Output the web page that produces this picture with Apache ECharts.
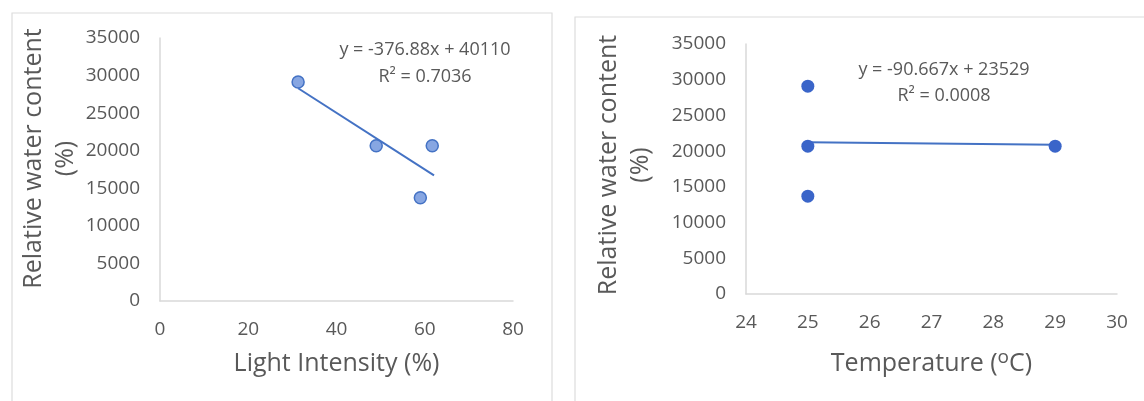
<!DOCTYPE html>
<html>
<head>
<meta charset="utf-8">
<script src="https://cdn.jsdelivr.net/npm/echarts@6/dist/echarts.min.js"></script>
<style>
html,body{margin:0;padding:0;background:#fff;}
#chart{width:1144px;height:401px;}
</style>
</head>
<body>
<div id="chart"></div>
<script>
// Left chart: Light intensity vs relative water content
var lightX = [31.3, 49.0, 61.7, 59.0];
var lightY = [29150, 20650, 20650, 13750];
var lightTrendX = [31.3, 62.1];
var lightTrendY = [28314, 16706];
var lightEq = ['y = -376.88x + 40110', 'R² = 0.7036'];

// Right chart: Temperature vs relative water content
var tempX = [25, 25, 25, 29];
var tempY = [29100, 20700, 13700, 20700];
var tempTrendX = [25, 29];
var tempTrendY = [21262, 20900];
var tempEq = ['y = -90.667x + 23529', 'R² = 0.0008'];

var yTicks = [0, 5000, 10000, 15000, 20000, 25000, 30000, 35000];
var lightTicks = [0, 20, 40, 60, 80];
var tempTicks = [24, 25, 26, 27, 28, 29, 30];

function pairs(xs, ys){ return xs.map(function(x,i){ return [x, ys[i]]; }); }

var FONT = 'Open Sans';
var GREY = '#595959';
var AXIS = '#d9d9d9';
var BLUE = '#4472c4';
function plain(v){ return String(v); }

function xAxisCfg(idx, ticks, name, gap, rich){
  return {
    type:'value', gridIndex: idx,
    min: ticks[0], max: ticks[ticks.length-1], interval: ticks[1]-ticks[0],
    name: name, nameLocation:'middle', nameGap: gap,
    nameTextStyle:{fontFamily:FONT, fontSize:25, color:GREY, rich: rich || {}},
    axisLine:{show:true, lineStyle:{color:AXIS, width:1.5}},
    axisTick:{show:false}, splitLine:{show:false},
    axisLabel:{fontFamily:FONT, fontSize:19, color:GREY, margin:19, formatter: plain}
  };
}
function yAxisCfg(idx, gap, pad){
  return {
    type:'value', gridIndex: idx,
    min: yTicks[0], max: yTicks[yTicks.length-1], interval: yTicks[1]-yTicks[0],
    name:'Relative water content\n(%)', nameLocation:'middle', nameGap: gap, nameRotate: 90,
    nameTextStyle:{fontFamily:FONT, fontSize:25, color:GREY, lineHeight:32, align:'center', padding: pad},
    axisLine:{show:true, lineStyle:{color:AXIS, width:1.5}},
    axisTick:{show:false}, splitLine:{show:false},
    axisLabel:{fontFamily:FONT, fontSize:19, color:GREY, margin:20, formatter: plain}
  };
}

var chart = echarts.init(document.getElementById('chart'));
chart.setOption({
  animation:false,
  backgroundColor:'#fff',
  grid:[
    {left:160, top:38, width:353, height:263},
    {left:746, top:44, width:371, height:250}
  ],
  xAxis:[
    xAxisCfg(0, lightTicks, 'Light Intensity (%)', 50),
    xAxisCfg(1, tempTicks, 'Temperature ({sup|o}C)', 54, {sup:{fontFamily:FONT, fontSize:19, color:GREY, verticalAlign:'top', padding:[0,0,12,0]}})
  ],
  yAxis:[
    yAxisCfg(0, 62, [0,0,0,22]),
    yAxisCfg(1, 89, [0,0,0,8])
  ],
  graphic:[
    {type:'rect', shape:{x:12, y:13, width:540, height:420}, style:{fill:'none', stroke:'#dcdcdc', lineWidth:1.2}, silent:true, z:-1},
    {type:'rect', shape:{x:575, y:17, width:600, height:420}, style:{fill:'none', stroke:'#dcdcdc', lineWidth:1.2}, silent:true, z:-1},
    {type:'text', x:425, y:50, style:{text:lightEq[0], fontFamily:FONT, fontSize:18, fill:GREY, textAlign:'center', textVerticalAlign:'middle'}},
    {type:'text', x:425, y:77, style:{text:lightEq[1], fontFamily:FONT, fontSize:18, fill:GREY, textAlign:'center', textVerticalAlign:'middle'}},
    {type:'text', x:944, y:70, style:{text:tempEq[0], fontFamily:FONT, fontSize:18, fill:GREY, textAlign:'center', textVerticalAlign:'middle'}},
    {type:'text', x:944, y:96, style:{text:tempEq[1], fontFamily:FONT, fontSize:18, fill:GREY, textAlign:'center', textVerticalAlign:'middle'}}
  ],
  series:[
    {type:'line', xAxisIndex:0, yAxisIndex:0, data:pairs(lightTrendX, lightTrendY), symbol:'none',
     lineStyle:{color:BLUE, width:2}, z:2},
    {type:'scatter', xAxisIndex:0, yAxisIndex:0, data:pairs(lightX, lightY), symbol:'circle', symbolSize:12,
     itemStyle:{color:'#87a6e2', borderColor:BLUE, borderWidth:1.5, opacity:1}, z:3},
    {type:'line', xAxisIndex:1, yAxisIndex:1, data:pairs(tempTrendX, tempTrendY), symbol:'none',
     lineStyle:{color:BLUE, width:2}, z:2},
    {type:'scatter', xAxisIndex:1, yAxisIndex:1, data:pairs(tempX, tempY), symbol:'circle', symbolSize:13,
     itemStyle:{color:'#3a65c9', opacity:1}, z:3}
  ]
});
</script>
</body>
</html>
